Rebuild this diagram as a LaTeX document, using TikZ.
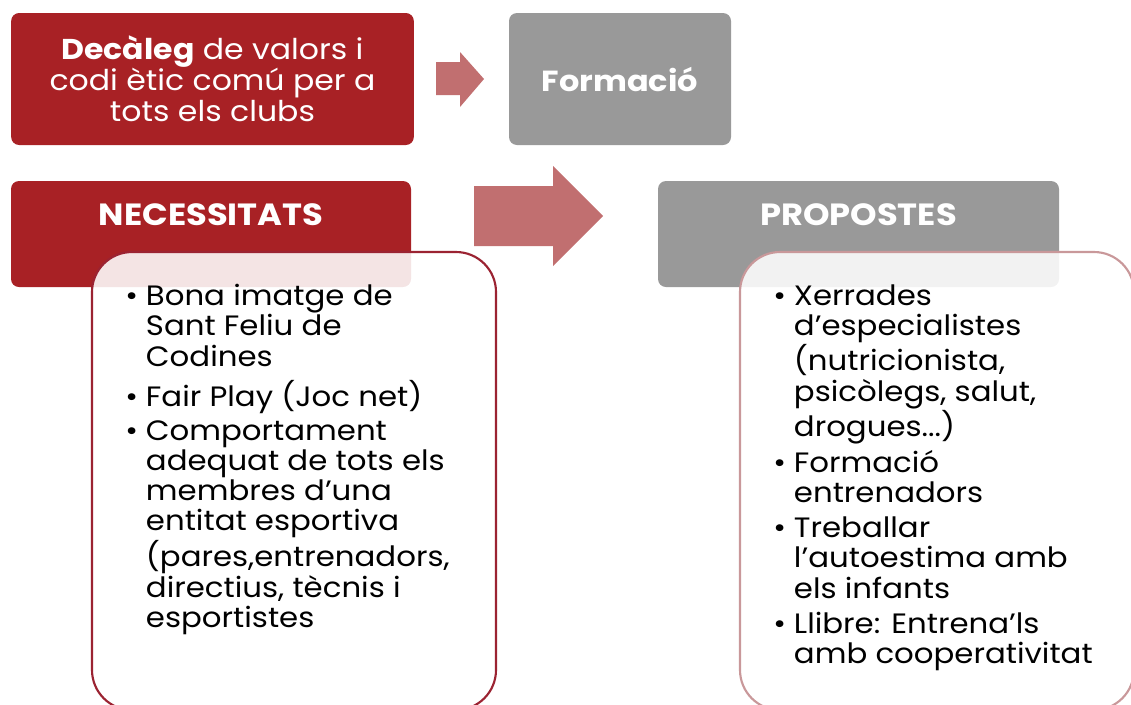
\documentclass[tikz,border=0pt]{standalone}
\usepackage{fontspec}
\setmainfont{Poppins}[FakeStretch=1.1]
\definecolor{boxred}{RGB}{168,33,37}
\definecolor{boxgray}{RGB}{153,153,153}
\definecolor{arrowred}{RGB}{193,111,112}
\definecolor{lineleft}{RGB}{155,35,50}
\definecolor{lineright}{RGB}{201,152,154}
\tikzset{
  headbox/.style={rectangle, rounded corners=6pt, inner sep=0pt},
  listbox/.style={rectangle, rounded corners=30pt, fill=white, fill opacity=0.88, line width=1.6pt, inner sep=0pt},
  headtext/.style={text=white, font=\fontsize{23}{26}\selectfont\bfseries, align=center},
  toptext/.style={text=white, font=\fontsize{21.5}{23.2}\selectfont, align=center},
  listtext/.style={text=black, font=\fontsize{21}{22.5}\selectfont, align=left, inner sep=0pt},
  blockarrow/.style={fill=arrowred, draw=none}
}
\begin{document}
\begin{tikzpicture}[x=0.75pt,y=-0.75pt]
\useasboundingbox (0,0) rectangle (1131,704);
% top row
\node[headbox, fill=boxred, minimum width=302pt, minimum height=99pt] (dec) at (212.5,79) {};
\node[toptext] (dect) at (212.5,79) {\textbf{Decàleg} de valors i\\codi ètic comú per a\\tots els clubs};
\node[headbox, fill=boxgray, minimum width=166.5pt, minimum height=99pt] (form) at (620,79) {};
\node[headtext, font=\fontsize{21.8}{26}\selectfont\bfseries] (formt) at (620,79) {Formació};
\fill[arrowred] (436,62) -- (460,62) -- (460,52) -- (484,79) -- (460,107) -- (460,95) -- (436,95) -- cycle;
% second row headers
\node[headbox, fill=boxred, minimum width=300pt, minimum height=79.5pt] (nec) at (211,234) {};
\node[headtext] (nect) at (211,215) {NECESSITATS};
\node[headbox, fill=boxgray, minimum width=300.75pt, minimum height=79.5pt] (prop) at (858.5,234) {};
\node[headtext] (propt) at (858.5,215) {PROPOSTES};
\fill[arrowred] (474,186) -- (553,186) -- (553,166) -- (603,216) -- (553,266) -- (553,246) -- (474,246) -- cycle;
% list boxes
\node[listbox, draw=lineleft, minimum width=303pt, minimum height=343.5pt] (necl) at (294,481) {};
\node[listbox, draw=lineright, minimum width=295.5pt, minimum height=343.5pt] (propl) at (937,481) {};
% lists
\node[listtext, anchor=north west] (necli) at (125,284) {%
\begin{tabular}{@{}l@{\hspace{6pt}}l@{}}
•&Bona imatge de\\
 &Sant Feliu de\\
 &Codines\\[3.5pt]
•&Fair Play (Joc net)\\[3.5pt]
•&Comportament\\
 &adequat de tots els\\
 &membres d'una\\
 &entitat esportiva\\
 &(pares,entrenadors,\\
 &directius, tècnis i\\
 &esportistes
\end{tabular}};
\node[listtext, anchor=north west] (propli) at (773,284) {%
\begin{tabular}{@{}l@{\hspace{6pt}}l@{}}
•&Xerrades\\
 &d'especialistes\\
 &(nutricionista,\\
 &psicòlegs, salut,\\
 &drogues...)\\[3.5pt]
•&Formació\\
 &entrenadors\\[3.5pt]
•&Treballar\\
 &l'autoestima amb\\
 &els infants\\[3.5pt]
•&Llibre: Entrena'ls\\
 &amb cooperativitat
\end{tabular}};
\end{tikzpicture}
\end{document}
